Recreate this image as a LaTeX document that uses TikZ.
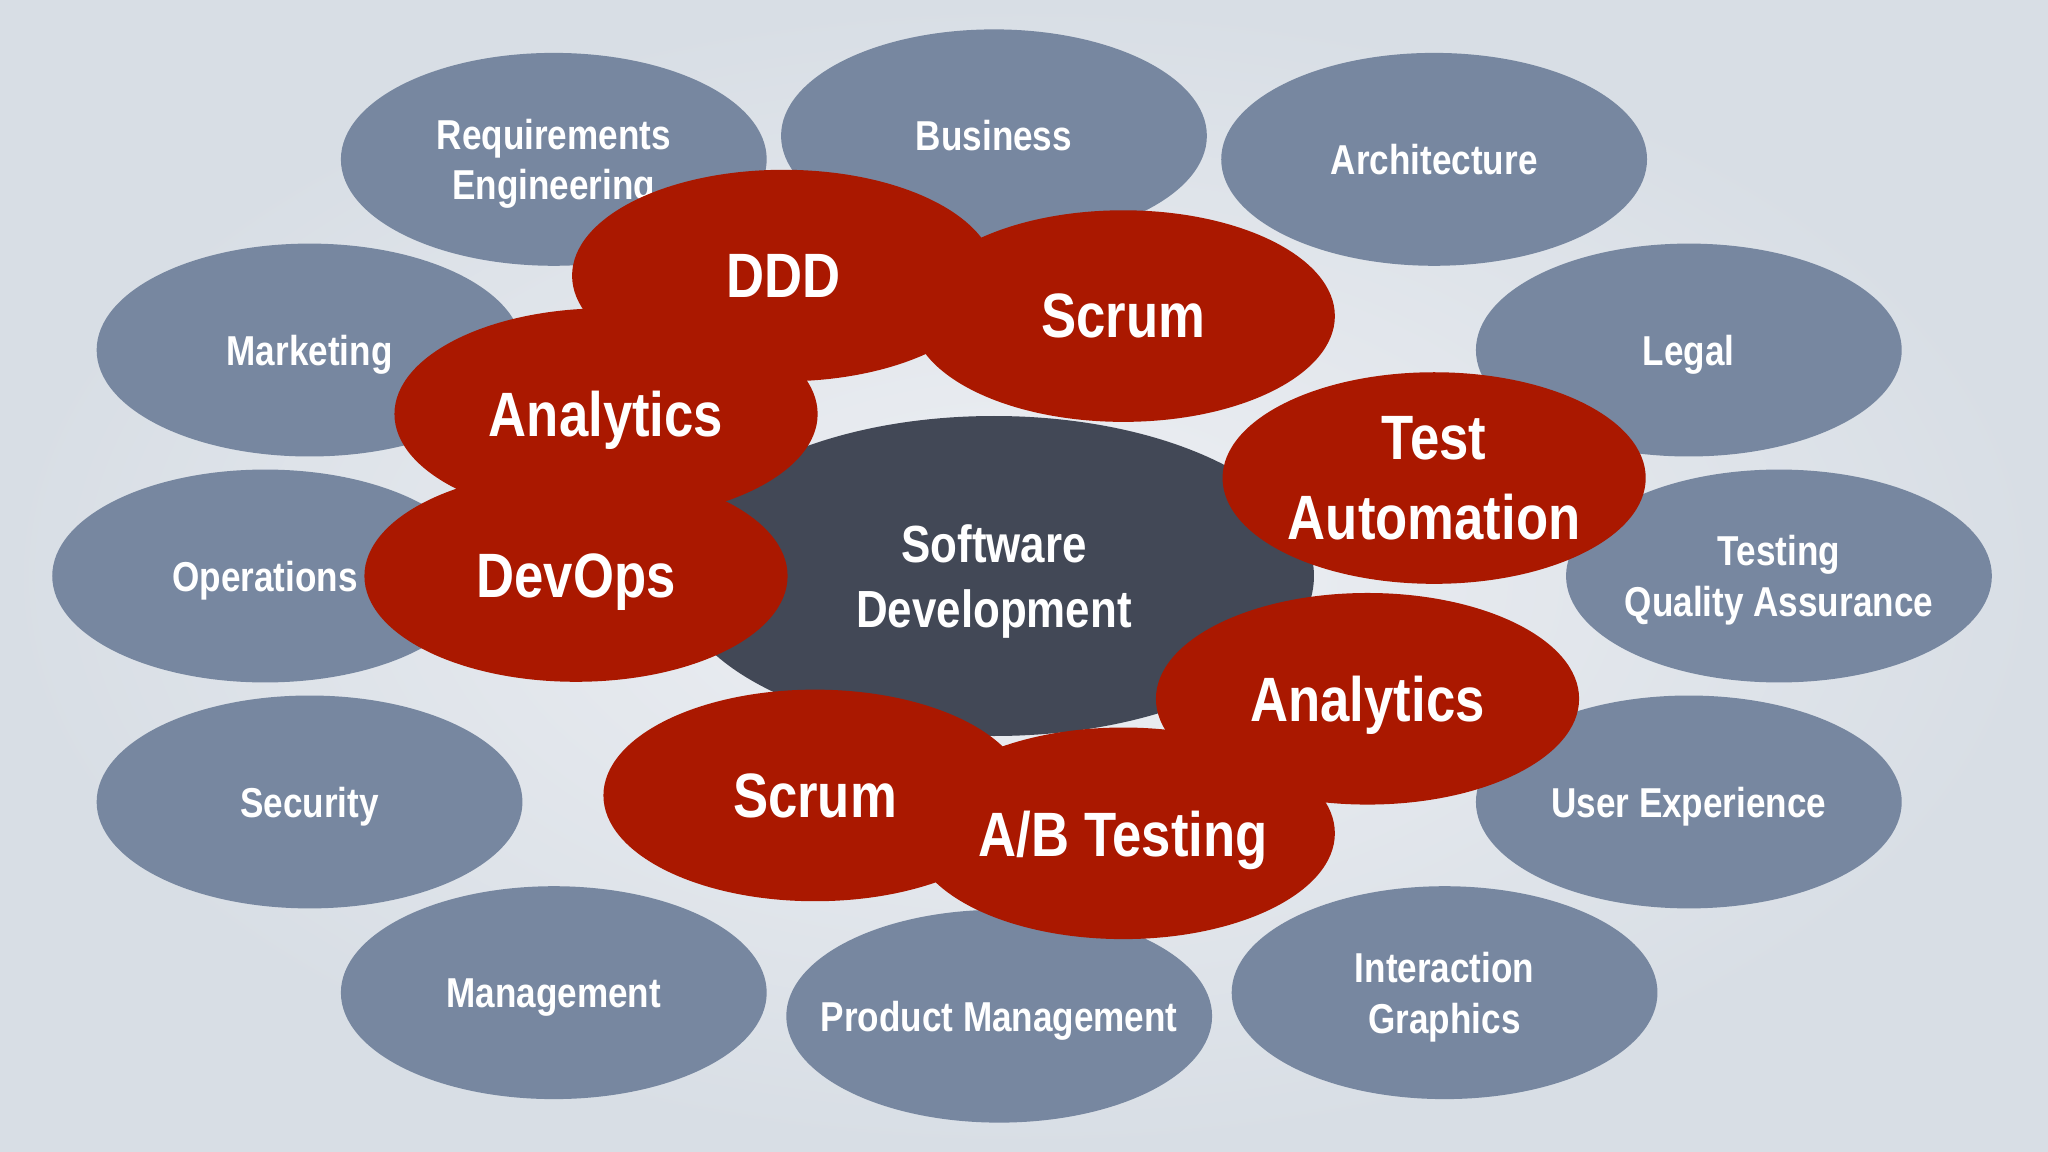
\documentclass[tikz,border=0pt]{standalone}
\usepackage{fontspec}
\newfontfamily\condfont[FakeStretch=0.84]{Liberation Sans}
\usetikzlibrary{shapes.geometric}

\definecolor{bginner}{HTML}{EEF0F4}
\definecolor{bgouter}{HTML}{D8DEE5}
\definecolor{fieldgray}{HTML}{7787A0}
\definecolor{practicered}{HTML}{AA1800}
\definecolor{coredark}{HTML}{424856}

\tikzset{
  blob/.style={ellipse, inner xsep=-60pt, inner ysep=0pt, text depth=0pt,
    text=white, align=center, font=\condfont\bfseries},
  field/.style={blob, fill=fieldgray, minimum width=326pt, minimum height=163pt,
    font=\condfont\bfseries\fontsize{32}{39}\selectfont},
  practice/.style={blob, fill=practicered, minimum width=324pt, minimum height=162pt,
    font=\condfont\bfseries\fontsize{48}{61}\selectfont},
  core/.style={blob, fill=coredark, minimum width=490pt, minimum height=245pt,
    font=\condfont\bfseries\fontsize{40}{50}\selectfont},
}

\begin{document}
\begin{tikzpicture}[x=1pt, y=-1pt]

\useasboundingbox (0,0) rectangle (1568,882);
\shade[inner color=bginner, outer color=bgouter] (0,0) rectangle (1568,882);

% fields round the outside
\node[field] (req)  at ( 424,122) {Requirements\\Engineering};
\node[field] (bus)  at ( 761,104) {Business};
\node[field] (arch) at (1098,122) {Architecture};
\node[field] (mkt)  at ( 237,268) {Marketing};
\node[field] (legal) at (1293,268) {Legal};
\node[field] (ops)  at ( 203,441) {Operations};
\node[field] (qa)   at (1362,441) {Testing\\Quality Assurance};
\node[field] (sec)  at ( 237,614) {Security};
\node[field] (ux)   at (1293,614) {User Experience};
\node[field] (mgmt) at ( 424,760) {Management};
\node[field] (pm)   at ( 765,778) {Product Management};
\node[field] (ixd)  at (1106,760) {Interaction\\Graphics};

% the core
\node[core] (swdev) at (761,441) {Software\\Development};

% practices on top
\node[practice] (ddd)    at ( 600,211) {DDD};
\node[practice] (scrumA) at ( 860,242) {Scrum};
\node[practice] (anaA)   at ( 464,317) {Analytics};
\node[practice] (devops) at ( 441,441) {DevOps};
\node[practice] (testA)  at (1098,366) {Test\\Automation};
\node[practice] (anaB)   at (1047,535) {Analytics};
\node[practice] (scrumB) at ( 624,609) {Scrum};
\node[practice] (abtest) at ( 860,638) {A/B Testing};

\end{tikzpicture}
\end{document}
